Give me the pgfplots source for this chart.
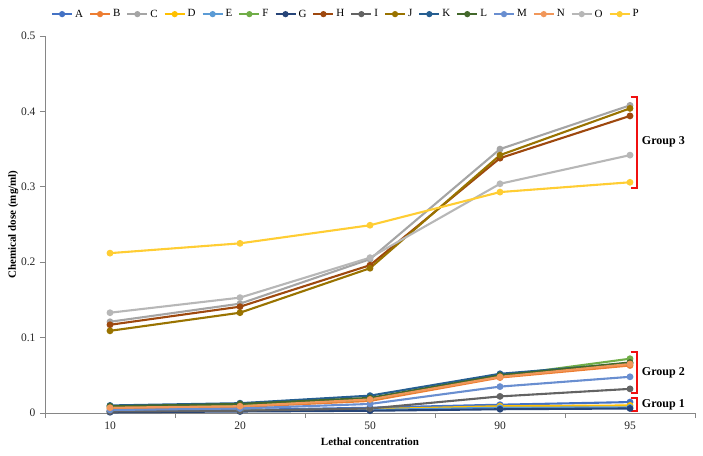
\documentclass[border=0pt]{standalone}
\usepackage{pgfplots}
\pgfplotsset{compat=1.18}
\usepackage{fontspec}
\setmainfont{Liberation Serif}
\definecolor{cA}{HTML}{4472C4}
\definecolor{cB}{HTML}{ED7D31}
\definecolor{cC}{HTML}{A5A5A5}
\definecolor{cD}{HTML}{FFC000}
\definecolor{cE}{HTML}{5B9BD5}
\definecolor{cF}{HTML}{70AD47}
\definecolor{cG}{HTML}{264478}
\definecolor{cH}{HTML}{9E480E}
\definecolor{cI}{HTML}{636363}
\definecolor{cJ}{HTML}{997300}
\definecolor{cK}{HTML}{255E91}
\definecolor{cL}{HTML}{43682B}
\definecolor{cM}{HTML}{698ED0}
\definecolor{cN}{HTML}{F1975A}
\definecolor{cO}{HTML}{B7B7B7}
\definecolor{cP}{HTML}{FFCD33}
\definecolor{axgray}{HTML}{868686}
\definecolor{brred}{HTML}{F01010}
\begin{document}
\begin{tikzpicture}
\begin{axis}[
  at={(0pt,0pt)}, anchor=south west,
  scale only axis, width=650pt, height=377pt,
  xmin=-0.5, xmax=4.5, ymin=0, ymax=0.5,
  axis x line*=bottom, axis y line*=left,
  axis line style={axgray, line width=0.8pt},
  tick style={axgray, line width=0.8pt},
  tick align=outside, major tick length=5pt,
  xtick={-0.5,0.5,1.5,2.5,3.5,4.5}, xticklabels={},
  extra x ticks={0,1,2,3,4},
  extra x tick labels={10,20,50,90,95},
  extra x tick style={major tick length=0pt},
  ytick={0,0.1,0.2,0.3,0.4,0.5},
  yticklabels={0,0.1,0.2,0.3,0.4,0.5},
  /pgf/number format/assume math mode=true,
  tick label style={font=\fontsize{11.5}{13}\selectfont, text=black!85},
  x tick label style={yshift=-5pt},
  y tick label style={xshift=-1pt},
  xlabel={\textbf{Lethal concentration}},
  ylabel={\textbf{Chemical dose (mg/ml)}},
  label style={font=\fontsize{11}{13}\selectfont},
  xlabel style={yshift=3pt},
  ylabel style={yshift=-4pt},
  every axis plot/.append style={line width=2.1pt, mark=*, mark size=2.3pt},
  legend columns=16,
  legend style={draw=none, fill=none, at={(0.463,1.058)}, anchor=center,
    font=\fontsize{11}{13}\selectfont, inner sep=0pt,
    /tikz/every even column/.append style={column sep=4pt}},
  legend image code/.code={\draw[line width=2pt] (0pt,0pt) -- (20pt,0pt);
    \fill (10pt,0pt) circle (2pt);},
  clip=false,
]
\addplot[cA, mark options={fill=cA}] coordinates {(0,0.003) (1,0.004) (2,0.007) (3,0.011) (4,0.0145)};
\addlegendentry{A}
\addplot[cB, mark options={fill=cB}] coordinates {(0,0.006) (1,0.008) (2,0.016) (3,0.047) (4,0.063)};
\addlegendentry{B}
\addplot[cC, mark options={fill=cC}] coordinates {(0,0.121) (1,0.145) (2,0.204) (3,0.350) (4,0.408)};
\addlegendentry{C}
\addplot[cD, mark options={fill=cD}] coordinates {(0,0.002) (1,0.003) (2,0.005) (3,0.009) (4,0.010)};
\addlegendentry{D}
\addplot[cE, mark options={fill=cE}] coordinates {(0,0.002) (1,0.003) (2,0.004) (3,0.007) (4,0.0075)};
\addlegendentry{E}
\addplot[cF, mark options={fill=cF}] coordinates {(0,0.008) (1,0.010) (2,0.018) (3,0.049) (4,0.072)};
\addlegendentry{F}
\addplot[cG, mark options={fill=cG}] coordinates {(0,0.001) (1,0.002) (2,0.003) (3,0.005) (4,0.006)};
\addlegendentry{G}
\addplot[cH, mark options={fill=cH}] coordinates {(0,0.117) (1,0.141) (2,0.196) (3,0.338) (4,0.394)};
\addlegendentry{H}
\addplot[cI, mark options={fill=cI}] coordinates {(0,0.002) (1,0.003) (2,0.006) (3,0.022) (4,0.032)};
\addlegendentry{I}
\addplot[cJ, mark options={fill=cJ}] coordinates {(0,0.109) (1,0.133) (2,0.192) (3,0.342) (4,0.404)};
\addlegendentry{J}
\addplot[cK, mark options={fill=cK}] coordinates {(0,0.010) (1,0.013) (2,0.023) (3,0.052) (4,0.066)};
\addlegendentry{K}
\addplot[cL, mark options={fill=cL}] coordinates {(0,0.009) (1,0.012) (2,0.020) (3,0.050) (4,0.067)};
\addlegendentry{L}
\addplot[cM, mark options={fill=cM}] coordinates {(0,0.004) (1,0.006) (2,0.012) (3,0.035) (4,0.048)};
\addlegendentry{M}
\addplot[cN, mark options={fill=cN}] coordinates {(0,0.007) (1,0.009) (2,0.018) (3,0.048) (4,0.065)};
\addlegendentry{N}
\addplot[cO, mark options={fill=cO}] coordinates {(0,0.133) (1,0.153) (2,0.206) (3,0.304) (4,0.342)};
\addlegendentry{O}
\addplot[cP, mark options={fill=cP}] coordinates {(0,0.212) (1,0.225) (2,0.249) (3,0.293) (4,0.306)};
\addlegendentry{P}
% brackets
\draw[brred, line width=1.8pt] (axis cs:4.005,0.419) -- (axis cs:4.055,0.419) -- (axis cs:4.055,0.298) -- (axis cs:4.005,0.298);
\draw[brred, line width=1.8pt] (axis cs:4.005,0.081) -- (axis cs:4.055,0.081) -- (axis cs:4.055,0.027) -- (axis cs:4.005,0.027);
\draw[brred, line width=1.8pt] (axis cs:4.005,0.020) -- (axis cs:4.055,0.020) -- (axis cs:4.055,0.003) -- (axis cs:4.005,0.003);
\node[anchor=west, font=\fontsize{12}{14}\selectfont\bfseries] at (axis cs:4.065,0.360) {Group 3};
\node[anchor=west, font=\fontsize{12}{14}\selectfont\bfseries] at (axis cs:4.065,0.053) {Group 2};
\node[anchor=west, font=\fontsize{12}{14}\selectfont\bfseries] at (axis cs:4.065,0.011) {Group 1};
\end{axis}
\pgfresetboundingbox
\useasboundingbox (-45pt,-42pt) rectangle (658pt,413pt);
\end{tikzpicture}
\end{document}
